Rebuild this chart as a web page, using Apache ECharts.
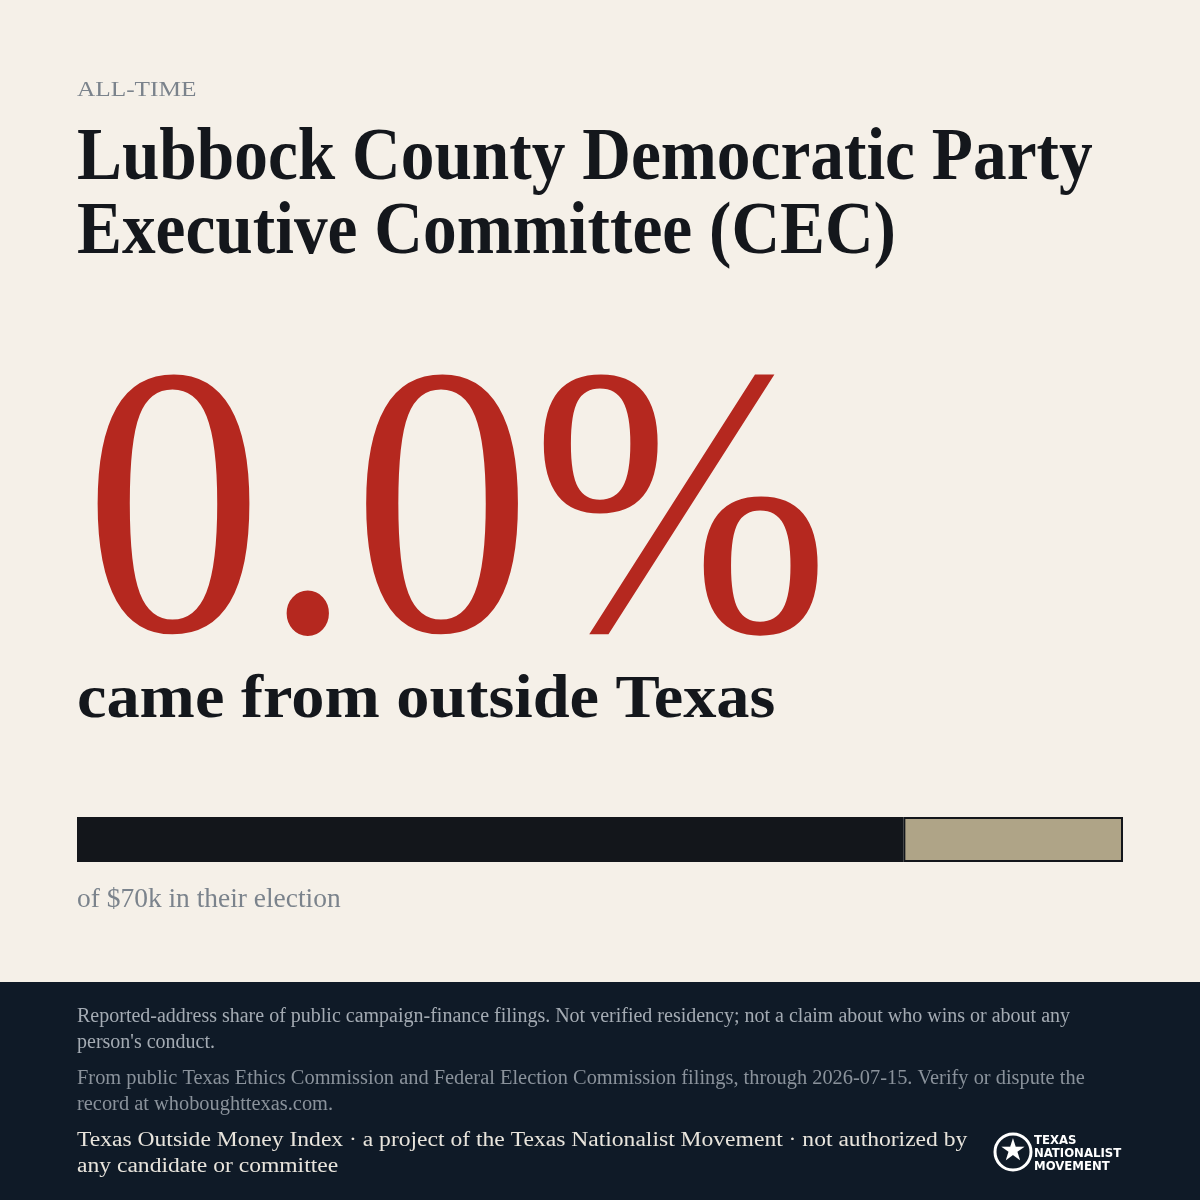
<!DOCTYPE html>
<html><head><meta charset="utf-8">
<script src="https://cdn.jsdelivr.net/npm/echarts@6/dist/echarts.min.js"></script>
<style>html,body{margin:0;padding:0;background:#f5f0e8}#c{width:1200px;height:1200px}</style>
</head><body><div id="c"></div>
<script>
const categories = ['Raised'];
const inTexasK = [55.3];
const unknownK = [14.7];
const outsideK = [0];
const totalK = 70;
const headline = '0.0%';

const chart = echarts.init(document.getElementById('c'));
const serif = '"Liberation Serif", "DejaVu Serif", serif';
const txt = (x, y, text, size, color, opts = {}) => ({
  type: 'text', x, y, scaleX: opts.sx || 1,
  style: { text, fill: color, font: (opts.w || 'normal') + ' ' + size + 'px ' + serif }
});
chart.setOption({
  animation: false,
  backgroundColor: '#f5f0e8',
  grid: { left: 77, width: 1046, top: 817, height: 45 },
  xAxis: { type: 'value', min: 0, max: totalK, show: false },
  yAxis: { type: 'category', data: categories, show: false },
  series: [
    { type: 'bar', stack: 's', name: 'Texas', data: inTexasK, barWidth: 45, itemStyle: { color: '#13161b' } },
    { type: 'bar', stack: 's', name: 'Outside', data: outsideK, barWidth: 45, itemStyle: { color: '#b5281f' } },
    { type: 'bar', stack: 's', name: 'Unknown', data: unknownK, barWidth: 45,
      itemStyle: { color: '#afa487', borderColor: '#13161b', borderWidth: 2 } }
  ],
  graphic: [
    { type: 'rect', shape: { x: 0, y: 982, width: 1200, height: 218 }, style: { fill: '#0f1a27' } },
    txt(77, 79, 'ALL-TIME', 22, '#7b838c', { sx: 1.15 }),
    txt(77, 123, 'Lubbock County Democratic Party', 74, '#14171c', { w: 'bold', sx: 0.91 }),
    txt(77, 197, 'Executive Committee (CEC)', 74, '#14171c', { w: 'bold', sx: 0.91 }),
    txt(84, 337, headline, 385, '#b5281f', { sx: 0.93 }),
    txt(77, 670, 'came from outside Texas', 62, '#14171c', { w: 'bold', sx: 1.07 }),
    txt(77, 886, 'of $' + totalK + 'k in their election', 28, '#7b838c', { sx: 0.98 }),
    txt(77, 1007, 'Reported-address share of public campaign-finance filings. Not verified residency; not a claim about who wins or about any', 20, '#a4abb3', { sx: 1.0 }),
    txt(77, 1033, "person's conduct.", 20, '#a4abb3', { sx: 1.0 }),
    txt(77, 1069, 'From public Texas Ethics Commission and Federal Election Commission filings, through 2026-07-15. Verify or dispute the', 20, '#8a929b', { sx: 1.02 }),
    txt(77, 1095, 'record at whoboughttexas.com.', 20, '#8a929b', { sx: 1.02 }),
    txt(77, 1130, 'Texas Outside Money Index · a project of the Texas Nationalist Movement · not authorized by', 20.5, '#e8e4dc', { sx: 1.15 }),
    txt(77, 1156, 'any candidate or committee', 20.5, '#e8e4dc', { sx: 1.15 }),
    { type: 'circle', shape: { cx: 1013, cy: 1152, r: 18 }, style: { fill: 'none', stroke: '#fff', lineWidth: 3 } },
    { type: 'text', x: 1013, y: 1152, style: { text: '★', fill: '#fff', font: 'bold 30px "DejaVu Sans"', align: 'center', verticalAlign: 'middle' } },
    { type: 'text', x: 1034, y: 1134, style: { text: 'TEXAS', fill: '#fff', font: 'bold 13px "DejaVu Sans Condensed", sans-serif' } },
    { type: 'text', x: 1034, y: 1147, style: { text: 'NATIONALIST', fill: '#fff', font: 'bold 13px "DejaVu Sans Condensed", sans-serif' } },
    { type: 'text', x: 1034, y: 1160, style: { text: 'MOVEMENT', fill: '#fff', font: 'bold 13px "DejaVu Sans Condensed", sans-serif' } }
  ]
});
</script></body></html>
